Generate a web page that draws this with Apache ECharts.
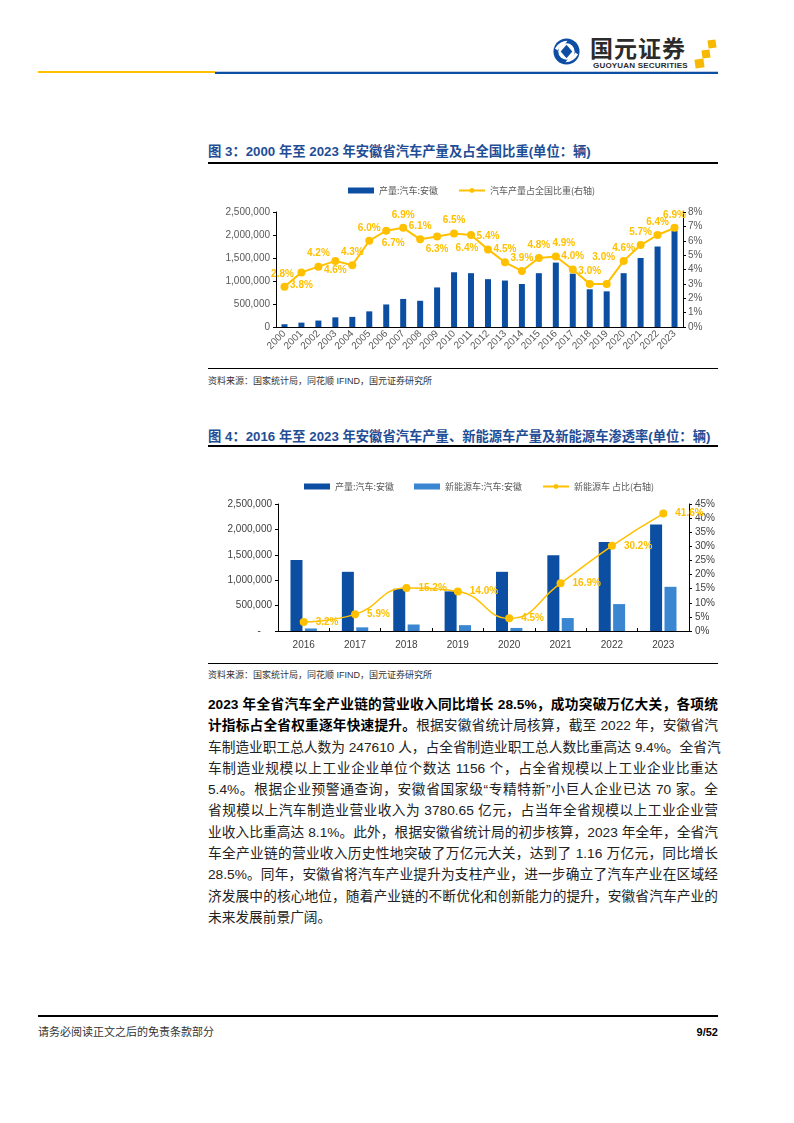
<!DOCTYPE html>
<html>
<head>
<meta charset="utf-8">
<script src="https://cdn.jsdelivr.net/npm/echarts@6/dist/echarts.min.js"></script>
<style>
  body { margin:0; background:#fff; font-family:'Liberation Sans','Noto Sans CJK SC',sans-serif; }
  #page { position:relative; width:794px; height:1123px; overflow:hidden; }
  .abs { position:absolute; }
  .title { left:208px; font-size:13.3px; font-weight:bold; color:#1F4E96; white-space:nowrap; line-height:16px; }
  .rule { left:208px; width:510px; background:#000; }
  .src { left:208px; font-size:9px; color:#333; white-space:nowrap; line-height:12px; }
  #para { left:208px; top:694px; width:510px; font-size:13.7px; line-height:21.3px; color:#222; }
  #para div { white-space:nowrap; text-align:justify; text-align-last:justify; height:21.3px; }
  #para div.last { text-align-last:left; }
  #para b { color:#000; }
</style>
</head>
<body>
<div id="page">
  <!-- header -->
  <svg class="abs" style="left:552px;top:37px" width="29" height="29" viewBox="0 0 30 30">
    <circle cx="15" cy="15" r="13.5" fill="#0D4EA2"/>
    <circle cx="15" cy="15" r="8.5" fill="#fff"/>
    <path d="M15 8 L21 15 L15 22 L9 15 Z" fill="#0D4EA2"/>
    <path d="M3 12 Q8 4 16 4 L13 8 Q8 9 6 14 Z" fill="#fff"/>
    <path d="M27 18 Q22 26 14 26 L17 22 Q22 21 24 16 Z" fill="#fff"/>
  </svg>
  <div class="abs" style="left:590px;top:34px;font-size:23px;font-weight:bold;color:#2b2b2b;letter-spacing:1px;font-family:'Noto Sans CJK SC';line-height:26px">国元证券</div>
  <div class="abs" style="left:593px;top:61px;font-size:8px;font-weight:bold;color:#2b2b2b;white-space:nowrap;line-height:9px;letter-spacing:0.2px">GUOYUAN SECURITIES</div>
  <div class="abs" style="left:708px;top:40px;width:8px;height:8px;background:#F6B800;transform:rotate(-8deg)"></div>
  <div class="abs" style="left:702px;top:50px;width:8px;height:8px;background:#F6B800;transform:rotate(-8deg)"></div>
  <div class="abs" style="left:695px;top:59px;width:9px;height:9px;background:#F6B800;transform:rotate(-8deg)"></div>
  <div class="abs" style="left:38px;top:71px;width:178px;height:2px;background:#FFC000"></div>
  <div class="abs" style="left:215px;top:71px;width:503px;height:1px;background:#BFD0E6"></div>
  <div class="abs" style="left:215px;top:72px;width:503px;height:2px;background:#0B4EA2"></div>

  <!-- figure 3 -->
  <div class="abs title" style="top:144px">图 3：2000 年至 2023 年安徽省汽车产量及占全国比重(单位：辆)</div>
  <div class="abs rule" style="top:162px;height:1.5px"></div>
  <div id="chart1" class="abs" style="left:208px;top:170px;width:510px;height:195px"></div>
  <div class="abs rule" style="top:368px;height:1px"></div>
  <div class="abs src" style="top:375px">资料来源：国家统计局，同花顺 IFIND，国元证券研究所</div>

  <!-- figure 4 -->
  <div class="abs title" style="top:429px">图 4：2016 年至 2023 年安徽省汽车产量、新能源车产量及新能源车渗透率(单位：辆)</div>
  <div class="abs rule" style="top:445px;height:1.5px"></div>
  <div id="chart2" class="abs" style="left:208px;top:455px;width:510px;height:202px"></div>
  <div class="abs rule" style="top:663px;height:1px"></div>
  <div class="abs src" style="top:669px">资料来源：国家统计局，同花顺 IFIND，国元证券研究所</div>

  <div id="para" class="abs">
    <div><b>2023 年全省汽车全产业链的营业收入同比增长 28.5%，成功突破万亿大关，各项统</b></div>
    <div><b>计指标占全省权重逐年快速提升。</b>根据安徽省统计局核算，截至 2022 年，安徽省汽</div>
    <div>车制造业职工总人数为 247610 人，占全省制造业职工总人数比重高达 9.4%。全省汽</div>
    <div>车制造业规模以上工业企业单位个数达 1156 个，占全省规模以上工业企业比重达</div>
    <div>5.4%。根据企业预警通查询，安徽省国家级“专精特新”小巨人企业已达 70 家。全</div>
    <div>省规模以上汽车制造业营业收入为 3780.65 亿元，占当年全省规模以上工业企业营</div>
    <div>业收入比重高达 8.1%。此外，根据安徽省统计局的初步核算，2023 年全年，全省汽</div>
    <div>车全产业链的营业收入历史性地突破了万亿元大关，达到了 1.16 万亿元，同比增长</div>
    <div>28.5%。同年，安徽省将汽车产业提升为支柱产业，进一步确立了汽车产业在区域经</div>
    <div>济发展中的核心地位，随着产业链的不断优化和创新能力的提升，安徽省汽车产业的</div>
    <div class="last">未来发展前景广阔。</div>
  </div>

  <!-- footer -->
  <div class="abs" style="left:38px;top:1015px;width:680px;height:2px;background:#000"></div>
  <div class="abs" style="left:38px;top:1025px;font-size:11px;color:#333;line-height:14px">请务必阅读正文之后的免责条款部分</div>
  <div class="abs" style="left:600px;top:1025px;width:118px;text-align:right;font-size:11px;font-weight:bold;color:#000;line-height:14px">9/52</div>
</div>

<script>
// 图3 数据
const years1 = ['2000','2001','2002','2003','2004','2005','2006','2007','2008','2009','2010','2011',
                '2012','2013','2014','2015','2016','2017','2018','2019','2020','2021','2022','2023'];
const output1 = [60000, 95000, 140000, 210000, 220000, 340000, 490000, 610000, 570000, 860000, 1190000, 1170000,
                 1040000, 1010000, 935000, 1170000, 1400000, 1160000, 820000, 775000, 1170000, 1500000, 1750000, 2090000];
const share1 = [2.8, 3.8, 4.2, 4.6, 4.3, 6.0, 6.7, 6.9, 6.1, 6.3, 6.5, 6.4,
                5.4, 4.5, 3.9, 4.8, 4.9, 4.0, 3.0, 3.0, 4.6, 5.7, 6.4, 6.9];

// 图4 数据
const years2 = ['2016','2017','2018','2019','2020','2021','2022','2023'];
const output2 = [1400000, 1165000, 830000, 780000, 1165000, 1490000, 1750000, 2094000];
const nev2 = [50000, 72000, 128000, 115000, 60000, 255000, 530000, 870000];
const rate2 = [3.2, 5.9, 15.2, 14.0, 4.5, 16.9, 30.2, 41.6];

const DARK = '#0B4EA2', LIGHT = '#3A86D0', GOLD = '#FFC000';
const FONT = "'Liberation Sans','Noto Sans CJK SC',sans-serif";
const CJK = "'Noto Sans CJK SC',sans-serif";
const fmtNum = v => v.toString().replace(/\B(?=(\d{3})+(?!\d))/g, ',');

// label placement for fig 3 (style only)
const lblPos1 = ['top','bottom','top','bottom','top','top','bottom','top','top','bottom','top','bottom',
                 'top','top','top','top','top','top','top','top','top','top','top','top'];
const lblOff1 = {0:[-2,0], 3:[0,-4], 6:[7,0], 11:[-4,0], 16:[8,0], 19:[-3,-14]};

function chart1() {
  var myChart = echarts.init(document.getElementById('chart1'));
  var lineData = share1.map((v, i) => ({
    value: v,
    label: {position: lblPos1[i], offset: lblOff1[i] || [0,0]}
  }));
  var option = {
    animation: false,
    textStyle: {fontFamily: FONT},
    legend: {
      left: 135, top: 11, itemWidth: 26, itemHeight: 6, itemGap: 20,
      textStyle: {fontSize: 9, color: '#595959', fontFamily: CJK},
      data: [{name: '产量:汽车:安徽', icon: 'rect'}, {name: '汽车产量占全国比重(右轴)'}]
    },
    grid: {left: 68, right: 35, top: 42, bottom: 38},
    xAxis: {
      type: 'category', data: years1,
      axisLine: {lineStyle: {color: '#000', width: 1}},
      axisTick: {show: false},
      axisLabel: {rotate: 45, interval: 0, fontSize: 10, color: '#595959', margin: 5}
    },
    yAxis: [
      {type: 'value', min: 0, max: 2500000, interval: 500000,
       axisLine: {show: true, lineStyle: {color: '#000'}},
       axisTick: {show: true, length: 3, lineStyle: {color: '#000'}},
       splitLine: {show: false},
       axisLabel: {fontSize: 10, color: '#595959', formatter: fmtNum, margin: 6}},
      {type: 'value', min: 0, max: 8, interval: 1,
       axisLine: {show: true, lineStyle: {color: '#000'}},
       axisTick: {show: true, length: 3, lineStyle: {color: '#000'}},
       splitLine: {show: false},
       axisLabel: {fontSize: 10, color: '#595959', formatter: '{value}%', margin: 5}}
    ],
    series: [
      {name: '产量:汽车:安徽', type: 'bar', data: output1, barWidth: 6, itemStyle: {color: DARK}},
      {name: '汽车产量占全国比重(右轴)', type: 'line', yAxisIndex: 1, data: lineData,
       symbol: 'circle', symbolSize: 8,
       lineStyle: {color: GOLD, width: 2}, itemStyle: {color: GOLD},
       label: {show: true, color: GOLD, fontSize: 10, fontWeight: 'bold', distance: 4,
               formatter: p => p.value.toFixed(1) + '%'}}
    ]
  };
  option && myChart.setOption(option);
}

function chart2() {
  var myChart = echarts.init(document.getElementById('chart2'));
  var option = {
    animation: false,
    textStyle: {fontFamily: FONT},
    legend: {
      left: 91, top: 22, itemWidth: 26, itemHeight: 6, itemGap: 20,
      textStyle: {fontSize: 9, color: '#595959', fontFamily: CJK},
      data: [{name: '产量:汽车:安徽', icon: 'rect'}, {name: '新能源车:汽车:安徽', icon: 'rect'}, {name: '新能源车 占比(右轴)'}]
    },
    grid: {left: 70, right: 28, top: 49, bottom: 26},
    xAxis: {
      type: 'category', data: years2,
      axisLine: {lineStyle: {color: '#000', width: 1}},
      axisTick: {show: true, inside: true, length: 3, lineStyle: {color: '#000'}},
      axisLabel: {fontSize: 10, color: '#404040', margin: 9}
    },
    yAxis: [
      {type: 'value', min: 0, max: 2500000, interval: 500000,
       axisLine: {show: true, lineStyle: {color: '#000'}},
       axisTick: {show: true, length: 3, lineStyle: {color: '#000'}},
       splitLine: {show: false},
       axisLabel: {fontSize: 10, color: '#404040', margin: 6,
                   formatter: v => v === 0 ? '-    ' : fmtNum(v)}},
      {type: 'value', min: 0, max: 45, interval: 5,
       axisLine: {show: true, lineStyle: {color: '#000'}},
       axisTick: {show: true, length: 3, lineStyle: {color: '#000'}},
       splitLine: {show: false},
       axisLabel: {fontSize: 10, color: '#404040', formatter: '{value}%', margin: 6}}
    ],
    series: [
      {name: '产量:汽车:安徽', type: 'bar', data: output2, barWidth: 12, barGap: '20%', itemStyle: {color: DARK}},
      {name: '新能源车:汽车:安徽', type: 'bar', data: nev2, barWidth: 12, itemStyle: {color: LIGHT}},
      {name: '新能源车 占比(右轴)', type: 'line', yAxisIndex: 1, data: rate2, smooth: true,
       symbol: 'circle', symbolSize: 8,
       lineStyle: {color: GOLD, width: 1.5}, itemStyle: {color: GOLD},
       label: {show: true, position: 'right', distance: 8, color: GOLD, fontSize: 10, fontWeight: 'bold',
               formatter: p => p.value.toFixed(1) + '%'}}
    ]
  };
  option && myChart.setOption(option);
}

chart1();
chart2();
</script>
</body>
</html>
